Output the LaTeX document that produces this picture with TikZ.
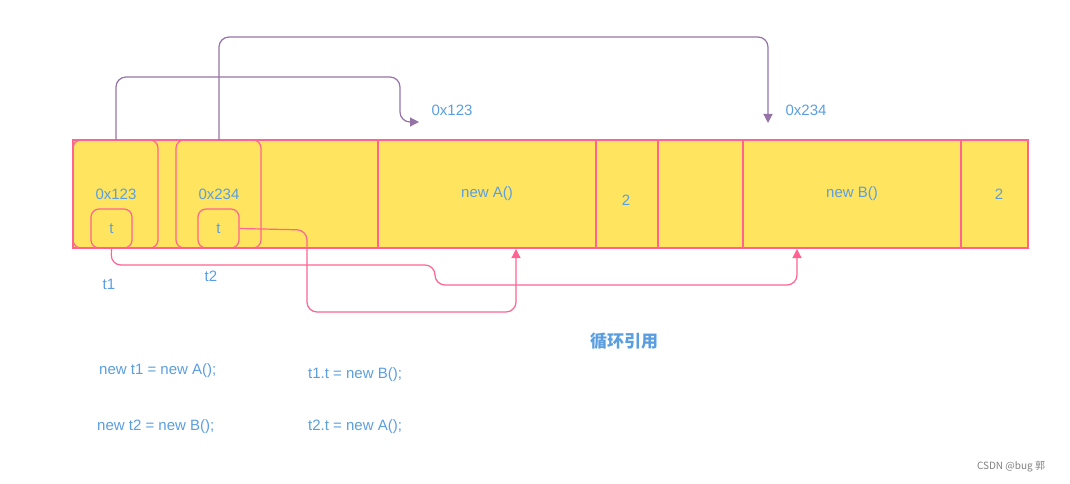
\documentclass[tikz,border=0pt]{standalone}
\usepackage{fontspec}
\setmainfont{Liberation Sans}
\newfontfamily\cjk{Noto Sans CJK SC}
\usetikzlibrary{arrows.meta}
\definecolor{txt}{HTML}{5B9EE0}
\definecolor{yel}{HTML}{FFE45F}
\definecolor{pnk}{HTML}{FF6392}
\definecolor{pur}{HTML}{9673A6}
\tikzset{
 lbl/.style={text=txt,font=\fontsize{15}{15}\selectfont,inner sep=0},
 cell/.style={draw=pnk,line width=1.2pt,fill=yel},
 rbox/.style={draw=pnk,line width=1.2pt,rounded corners=8pt},
 plink/.style={draw=pur,line width=1.2pt,rounded corners=10pt,-{Triangle[length=9pt,width=9pt]}},
 klink/.style={draw=pnk,line width=1.2pt,rounded corners=10pt,-{Triangle[length=9pt,width=9pt]}},
}
\begin{document}
\begin{tikzpicture}[x=1pt,y=-1pt]
\useasboundingbox (0,0) rectangle (1070,484);
\draw[cell] (73,140) rectangle (1028,248);
\foreach \x in {378,596,658,743,961} \draw[draw=pnk,line width=1.2pt] (\x,140) -- (\x,248);
\draw[rbox] (73,140) rectangle (158,248);
\draw[rbox] (176,140) rectangle (261,248);
\node[rbox,minimum width=41pt,minimum height=39pt,inner sep=0] (ta) at (111.5,228.5) {};
\node[rbox,minimum width=41pt,minimum height=39pt,inner sep=0] (tb) at (218.5,228.5) {};
\node[lbl] at (111.5,229) {t};
\node[lbl] at (218.5,229) {t};
\node[lbl] (a1) at (116,194) {0x123};
\node[lbl] (a2) at (219,194) {0x234};
\coordinate (o1) at (116,140);
\coordinate (o2) at (219,140);
\node[lbl] at (487,194) {new A()};
\node[lbl] at (626,200) {2};
\node[lbl] at (852,194) {new B()};
\node[lbl] at (999,194) {2};
\node[lbl] (h1) at (452,110) {0x123};
\node[lbl] (h2) at (806,110) {0x234};
\coordinate (e1) at (419,122);
\coordinate (e2) at (768,123);
\draw[plink] (o1) -- (116,77) -- (400,77) -- (400,122) -- (e1);
\draw[plink] (o2) -- (219,37) -- (768,37) -- (e2);
\coordinate (kA) at (516,249);
\coordinate (kB) at (797,249);
\draw[klink] (ta.south) -- (111,265) -- (435,265) -- (435,285) -- (797,285) -- (kB);
\draw[klink] (tb.east) -- (307,230) -- (307,312) -- (516,312) -- (kA);
\node[lbl] at (109,284) {t1};
\node[lbl] at (211,276) {t2};
\node[text=txt,font=\cjk\bfseries\fontsize{17}{17}\selectfont,inner sep=0] at (624,341) {循环引用};
\node[lbl,anchor=west] at (99,371) {new t1 = new A();};
\node[lbl,anchor=west] at (308,375) {t1.t = new B();};
\node[lbl,anchor=west] at (97,427) {new t2 = new B();};
\node[lbl,anchor=west] at (308,427) {t2.t = new A();};
\node[text=gray,font=\cjk\fontsize{10}{10}\selectfont,inner sep=0] at (1011,467) {CSDN @bug 郭};
\end{tikzpicture}
\end{document}
